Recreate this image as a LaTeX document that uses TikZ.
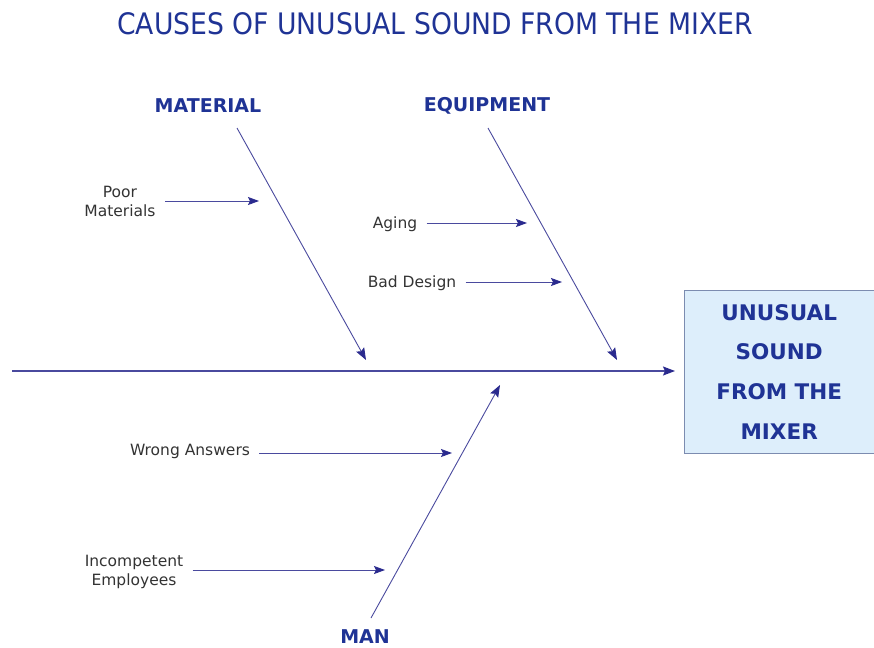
\documentclass[tikz,border=0pt]{standalone}
\usepackage{fontspec}
\setmainfont{DejaVu Sans}
\newfontfamily\condfont{DejaVu Sans Condensed}
\usetikzlibrary{shapes,arrows,arrows.meta,positioning,fit,calc}

\definecolor{bonecol}{HTML}{4A4A9E}
\definecolor{tipcol}{HTML}{2A2A8E}
\definecolor{labcol}{HTML}{1F3395}
\definecolor{txtcol}{HTML}{333333}
\definecolor{boxfill}{HTML}{DDEEFB}
\definecolor{boxline}{HTML}{7C8CB0}

\tikzset{
    bone/.style={draw=bonecol, line width=0.9pt, -{Stealth[length=12pt,width=9pt,inset=2pt,color=tipcol]}},
    twig/.style={draw=bonecol, line width=0.8pt, -{Stealth[length=11pt,width=8pt,inset=2pt,color=tipcol]}},
    cat/.style={text=labcol, inner sep=1pt, font=\bfseries\fontsize{19}{22}\selectfont},
    cause/.style={text=txtcol, align=center, font=\fontsize{15.5}{19}\selectfont}
}

\begin{document}
\begin{tikzpicture}[x=1pt,y=-1pt]
            \useasboundingbox (0,0) rectangle (874,647);
            \node[text=labcol, font=\condfont\fontsize{29.6}{32}\selectfont] (title) at (435,24) {CAUSES OF UNUSUAL SOUND FROM THE MIXER};
            % effect box
            \node[draw=boxline, fill=boxfill, minimum width=190pt, minimum height=163pt, anchor=north west,
                  text=labcol, align=center, font=\bfseries\fontsize{21.5}{39.6}\selectfont] (effect) at (684,290) {UNUSUAL\\SOUND\\FROM THE\\MIXER};
            \coordinate (tail) at (12,371);
            \draw[bone, line width=1.5pt, shorten >=9pt] (tail) -- (effect.west |- tail);
            % categories
            \node[cat] (material) at (208,106) {MATERIAL};
            \node[cat] (equipment) at (487,106) {EQUIPMENT};
            \node[cat] (man) at (365,637) {MAN};
            \coordinate (m1) at (237,128);
            \coordinate (m2) at (366,360);
            \coordinate (e1) at (488,128);
            \coordinate (e2) at (617,360);
            \coordinate (n1) at (371,618);
            \coordinate (n2) at (500,385);
            \foreach \a/\b in {m1/m2,e1/e2,n1/n2} {
                \draw[bone] (\a) -- (\b);
            }
            % causes
            \node[cause] (poor) at (120,201) {Poor\\Materials};
            \node[cause] (aging) at (395,224) {Aging};
            \node[cause] (design) at (412,283) {Bad Design};
            \node[cause] (wrong) at (190,451) {Wrong Answers};
            \node[cause] (incomp) at (134,572) {Incompetent\\Employees};
            \coordinate (t1) at (259,201);
            \coordinate (t2) at (527,223);
            \coordinate (t3) at (562,282);
            \coordinate (t4) at (452,453);
            \coordinate (t5) at (385,570);
            \foreach \c/\t in {poor/t1,aging/t2,design/t3,wrong/t4,incomp/t5} {
                \draw[twig] (\c.east |- \t) ++(6,0) -- (\t);
            }
        \end{tikzpicture}
\end{document}
